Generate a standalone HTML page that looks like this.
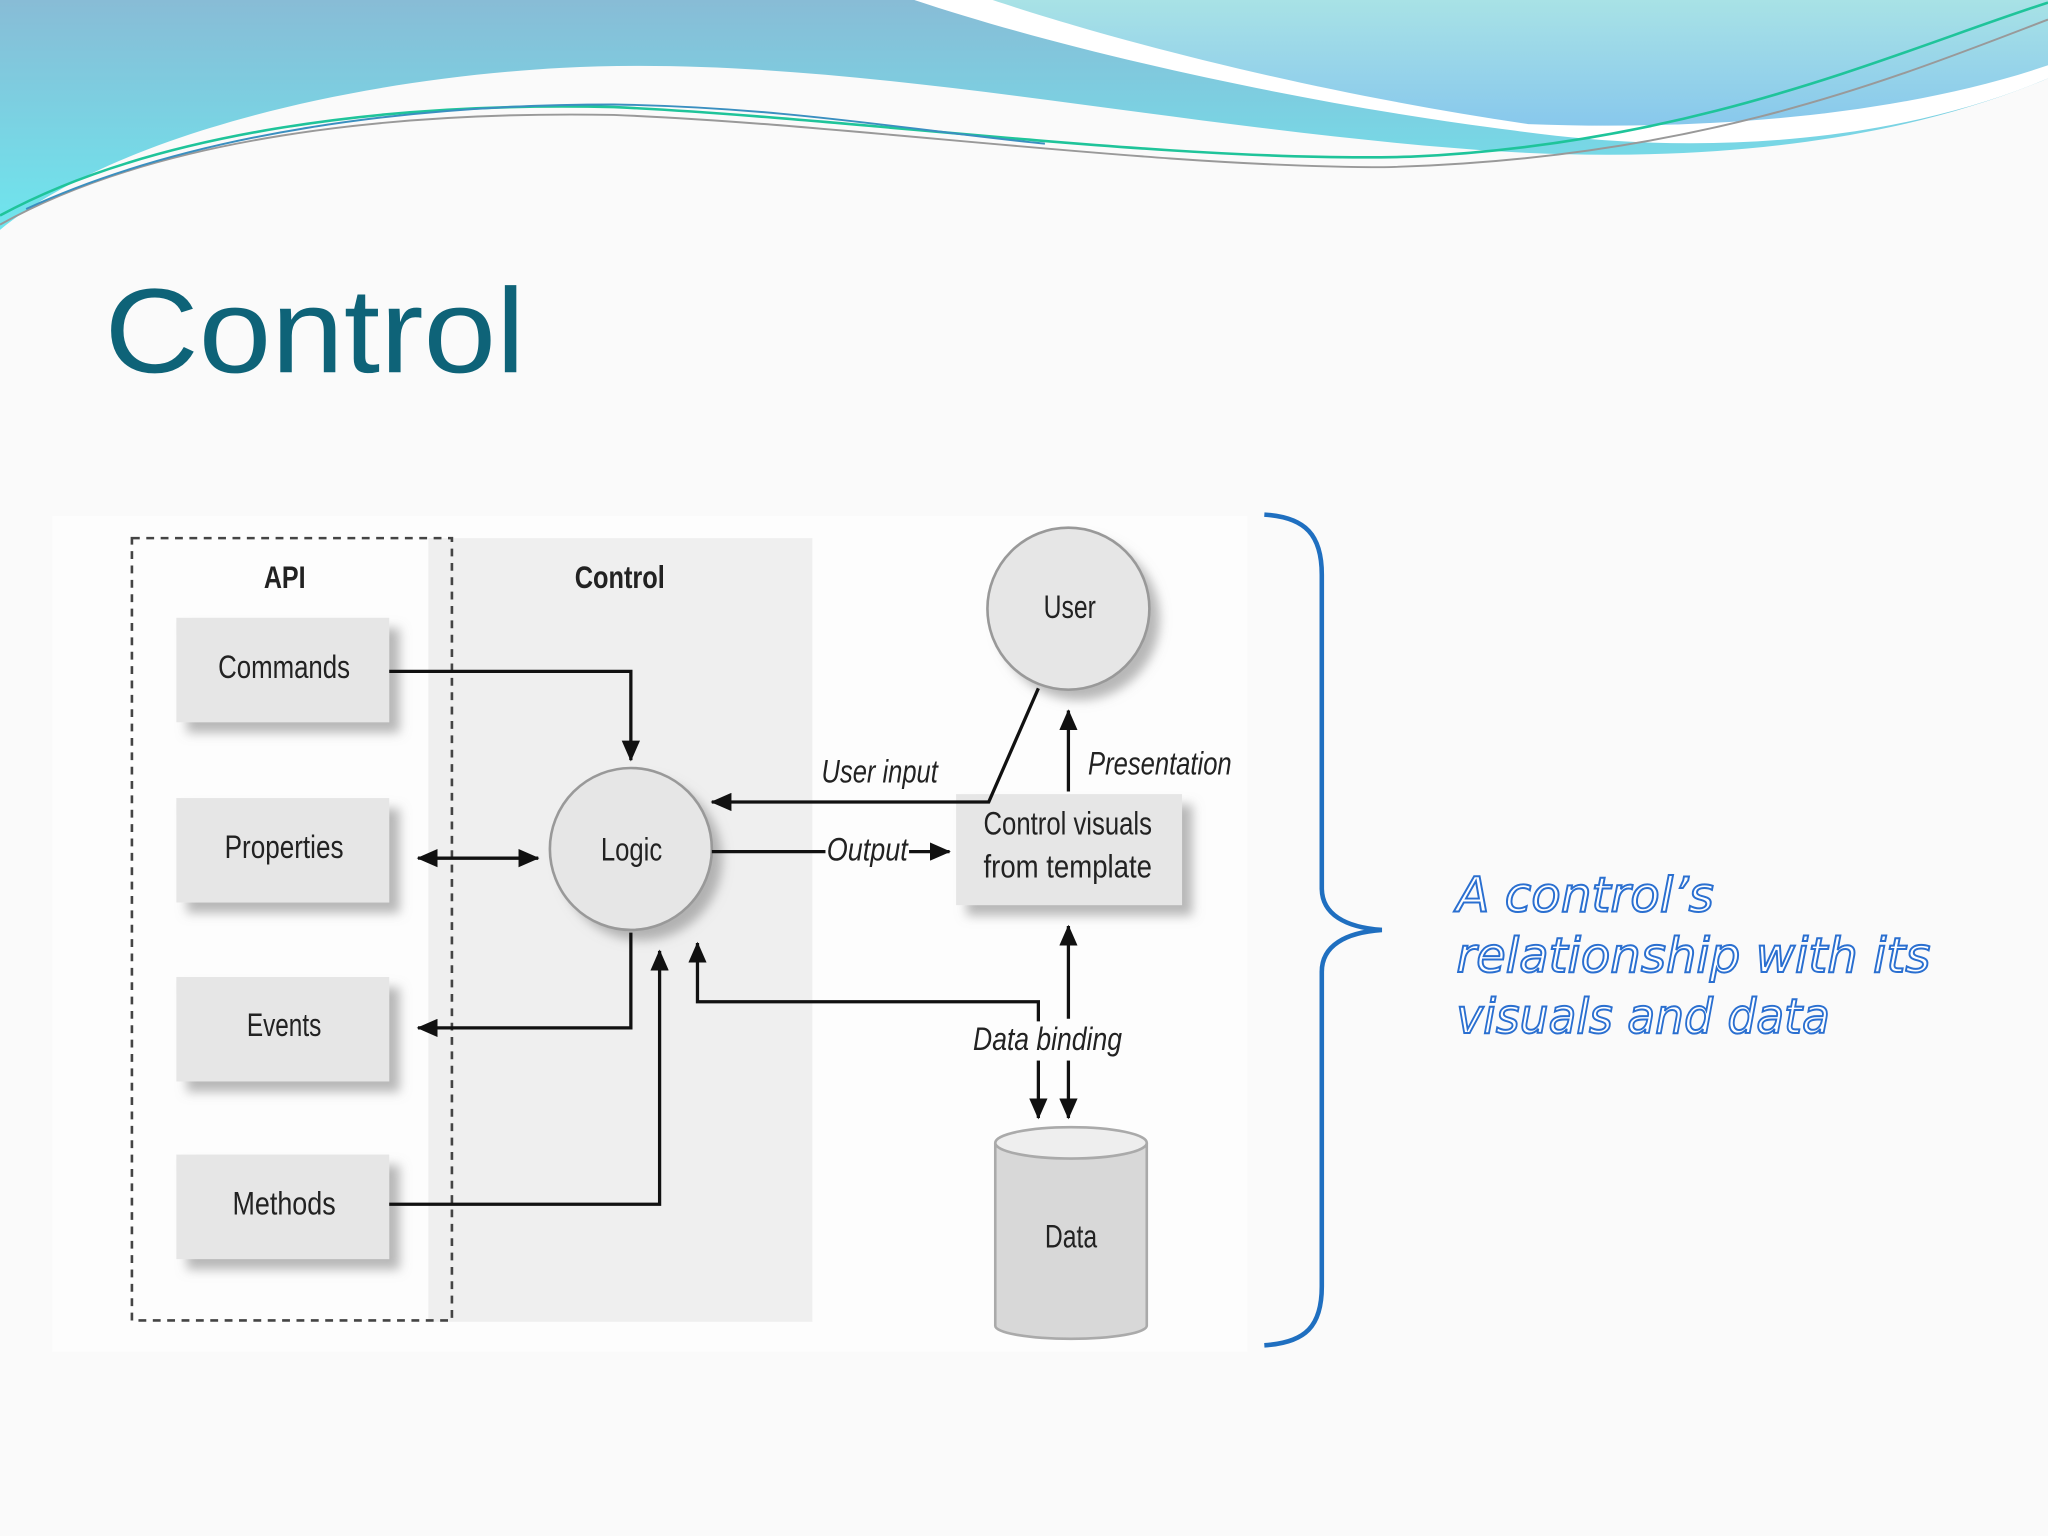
<!DOCTYPE html>
<html><head><style>
html,body{margin:0;padding:0;background:#fafafa}
svg{display:block}
</style></head><body>
<svg width="2048" height="1536" viewBox="0 0 1568 1176" xmlns="http://www.w3.org/2000/svg">
<defs>
<linearGradient id="g1" x1="0" y1="0" x2="0" y2="1"><stop offset="0" stop-color="#88bcd6"/><stop offset="1" stop-color="#6ee6ee"/></linearGradient>
<linearGradient id="g2" x1="0" y1="0" x2="0" y2="1"><stop offset="0" stop-color="#a8e2e6"/><stop offset="1" stop-color="#88c8ec"/></linearGradient>
<marker id="ar" markerWidth="16" markerHeight="14" refX="15" refY="7" orient="auto" markerUnits="userSpaceOnUse"><path d="M0,0 L16,7 L0,14 z" fill="#111"/></marker>
<filter id="sh" x="-20%" y="-20%" width="150%" height="150%"><feDropShadow dx="8" dy="8" stdDeviation="4" flood-color="#888" flood-opacity="0.6"/></filter>
</defs>
<rect width="1568" height="1176" fill="#fafafa"/>
<path d="M0,0 H1568 V60 C1450,110 1300,125 1150,116 C900,100 650,40 430,52 C250,62 80,110 0,176 Z" fill="url(#g1)"/>
<path d="M700,0 H1568 V60 C1450,110 1300,120 1160,100 C1000,80 820,40 700,0 Z" fill="#fff"/>
<path d="M760,0 H1568 V50 C1450,90 1300,100 1170,95 C1000,70 850,30 760,0 Z" fill="url(#g2)"/>
<path d="M0,165 C120,100 300,78 470,82 C650,90 900,125 1080,120 C1300,110 1450,40 1568,2" fill="none" stroke="#1fc49a" stroke-width="2"/>
<path d="M0,172 C120,105 300,85 470,88 C650,95 880,128 1060,128 C1300,122 1450,60 1568,15" fill="none" stroke="#999" stroke-width="1.5"/>
<path d="M20,160 C150,100 320,80 470,80 C600,82 700,100 800,110" fill="none" stroke="#3a8fc0" stroke-width="1.5"/>
<text x="80" y="285" font-family="Liberation Sans, sans-serif" font-size="92" fill="#0e6378" textLength="322" lengthAdjust="spacingAndGlyphs">Control</text>
<rect x="40" y="395" width="915" height="640" fill="#fdfdfd"/>
<rect x="328" y="412" width="294" height="600" fill="#efefef"/>
<rect x="101" y="412" width="245" height="599" fill="none" stroke="#444" stroke-width="2" stroke-dasharray="6,5"/>
<g font-family="Liberation Sans, sans-serif" fill="#222">
<text x="202" y="450" font-size="24" font-weight="bold" textLength="32" lengthAdjust="spacingAndGlyphs">API</text>
<text x="440" y="450" font-size="24" font-weight="bold" textLength="69" lengthAdjust="spacingAndGlyphs">Control</text>
<g filter="url(#sh)" fill="#e6e6e6">
<rect x="135" y="473" width="163" height="80"/>
<rect x="135" y="611" width="163" height="80"/>
<rect x="135" y="748" width="163" height="80"/>
<rect x="135" y="884" width="163" height="80"/>
<rect x="732" y="608" width="173" height="85"/>
<circle cx="483" cy="650" r="62"/>
<circle cx="818" cy="466" r="62"/>
</g>
<circle cx="483" cy="650" r="62" fill="none" stroke="#999" stroke-width="2"/>
<circle cx="818" cy="466" r="62" fill="none" stroke="#999" stroke-width="2"/>
<path d="M762,875 V1015 A58,10 0 0 0 878,1015 V875" fill="#d8d8d8" stroke="#aaa" stroke-width="2"/>
<ellipse cx="820" cy="875" rx="58" ry="12" fill="#eee" stroke="#aaa" stroke-width="2"/>
<g font-size="25" lengthAdjust="spacingAndGlyphs">
<text x="167" y="519" textLength="101" lengthAdjust="spacingAndGlyphs">Commands</text>
<text x="172" y="657" textLength="91" lengthAdjust="spacingAndGlyphs">Properties</text>
<text x="189" y="793" textLength="57" lengthAdjust="spacingAndGlyphs">Events</text>
<text x="178" y="930" textLength="79" lengthAdjust="spacingAndGlyphs">Methods</text>
<text x="460" y="659" textLength="47" lengthAdjust="spacingAndGlyphs">Logic</text>
<text x="799" y="473" textLength="40" lengthAdjust="spacingAndGlyphs">User</text>
<text x="753" y="639" textLength="129" lengthAdjust="spacingAndGlyphs">Control visuals</text>
<text x="753" y="672" textLength="129" lengthAdjust="spacingAndGlyphs">from template</text>
<text x="800" y="955" textLength="40" lengthAdjust="spacingAndGlyphs">Data</text>
</g>
<g font-size="25" font-style="italic">
<text x="629" y="599" textLength="89" lengthAdjust="spacingAndGlyphs">User input</text>
<text x="833" y="593" textLength="110" lengthAdjust="spacingAndGlyphs">Presentation</text>
<text x="633" y="659" textLength="62" lengthAdjust="spacingAndGlyphs">Output</text>
<text x="745" y="804" textLength="114" lengthAdjust="spacingAndGlyphs">Data binding</text>
</g>
</g>
<g fill="none" stroke="#111" stroke-width="2.5">
<path d="M298,514 H483 V582" marker-end="url(#ar)"/>
<path d="M322,657 H412" marker-end="url(#ar)"/>
<path d="M412,657 H320" marker-end="url(#ar)"/>
<path d="M483,714 V787 H320" marker-end="url(#ar)"/>
<path d="M298,922 H505 V728" marker-end="url(#ar)"/>
<path d="M545,652 H632"/>
<path d="M696,652 H727" marker-end="url(#ar)"/>
<path d="M795,527 L757,614 H545" marker-end="url(#ar)"/>
<path d="M818,606 V544" marker-end="url(#ar)"/>
<path d="M818,780 V709" marker-end="url(#ar)"/>
<path d="M795,782 V767 H534 V722" marker-end="url(#ar)"/>
<path d="M795,812 V856" marker-end="url(#ar)"/>
<path d="M818,812 V856" marker-end="url(#ar)"/>
</g>
<path d="M968,394 C1000,396 1012,410 1012,440 V680 C1012,700 1030,710 1058,712 C1030,714 1012,724 1012,744 V985 C1012,1015 1000,1028 968,1030" fill="none" stroke="#1f6fc0" stroke-width="3.5"/>
<g font-family="Comic Sans MS, DejaVu Sans, sans-serif" font-size="37" font-style="italic" fill="#fff" stroke="#2a6fd0" stroke-width="1.5">
<text x="1115" y="698">A control’s</text>
<text x="1115" y="744" textLength="363" lengthAdjust="spacingAndGlyphs">relationship with its</text>
<text x="1115" y="791" textLength="286" lengthAdjust="spacingAndGlyphs">visuals and data</text>
</g>
</svg>
</body></html>
